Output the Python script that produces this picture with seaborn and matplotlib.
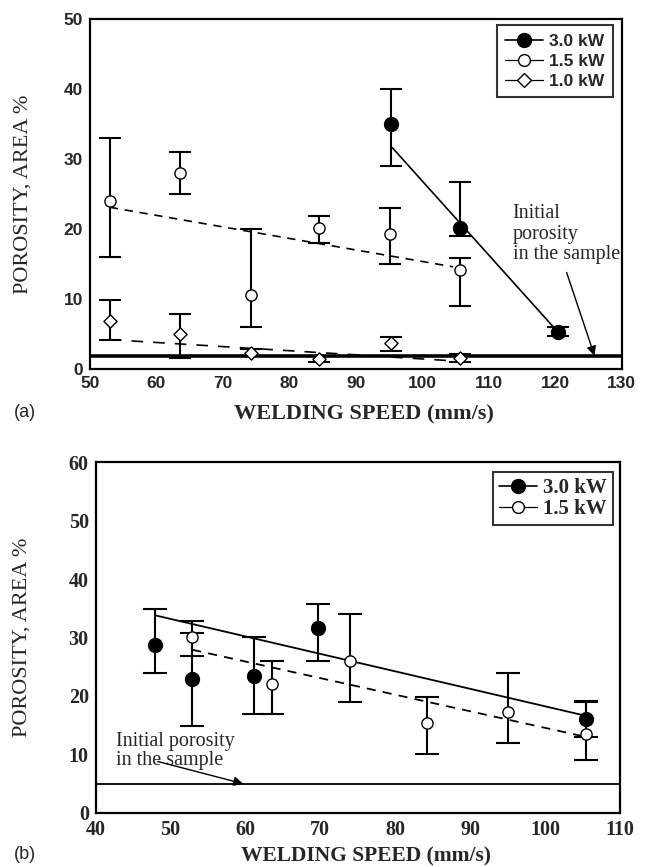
import matplotlib
matplotlib.use("Agg")
import matplotlib.pyplot as plt
from matplotlib.lines import Line2D
from matplotlib.ticker import MultipleLocator
import numpy as np
import pandas as pd
import seaborn as sns

# ---------------- panel (a) data ----------------
speed_a_30 = [95.3, 105.7, 120.4]
por_a_30 = [35.0, 20.1, 5.3]
lo_a_30 = [29.0, 19.0, 4.7]
hi_a_30 = [40.0, 26.7, 6.0]

speed_a_15 = [53.0, 63.5, 74.2, 84.5, 95.2, 105.7]
por_a_15 = [24.0, 28.0, 10.6, 20.2, 19.3, 14.1]
lo_a_15 = [16.0, 25.0, 6.0, 18.0, 15.0, 9.0]
hi_a_15 = [33.0, 31.0, 20.0, 21.8, 23.0, 15.8]

speed_a_10 = [53.0, 63.5, 74.2, 84.5, 95.3, 105.7]
por_a_10 = [6.9, 5.0, 2.3, 1.4, 3.7, 1.5]
lo_a_10 = [4.2, 1.5, 1.9, 1.0, 2.6, 1.0]
hi_a_10 = [9.8, 7.8, 2.8, 1.9, 4.5, 2.1]

trend_a_30_x, trend_a_30_y = [95.5, 120.0], [31.6, 5.7]
trend_a_15_x, trend_a_15_y = [53.0, 104.6], [23.1, 14.6]
trend_a_10_x, trend_a_10_y = [53.0, 105.7], [4.2, 1.1]
initial_a = 1.9

# ---------------- panel (b) data ----------------
speed_b_30 = [47.9, 52.9, 61.2, 69.7, 105.5]
por_b_30 = [28.8, 22.9, 23.4, 31.6, 16.1]
lo_b_30 = [23.9, 14.9, 16.9, 25.9, 13.0]
hi_b_30 = [34.9, 32.8, 30.1, 35.8, 19.2]

speed_b_15 = [52.9, 63.5, 73.9, 84.3, 95.0, 105.5]
por_b_15 = [30.1, 22.0, 25.9, 15.3, 17.3, 13.5]
lo_b_15 = [26.9, 16.9, 19.0, 10.1, 12.0, 9.1]
hi_b_15 = [30.8, 25.9, 34.0, 19.9, 23.9, 19.0]

trend_b_30_x, trend_b_30_y = [47.9, 105.5], [33.8, 16.6]
trend_b_15_x, trend_b_15_y = [52.9, 105.5], [27.9, 13.0]
initial_b = 5.0

sns.set_style("white")
plt.rcParams["font.family"] = ["Liberation Serif", "DejaVu Serif"]

fig = plt.figure(figsize=(6.47, 8.67), dpi=100)
ax_a = fig.add_axes([0.139, 0.5744, 0.822, 0.4037])
ax_b = fig.add_axes([0.148, 0.0623, 0.810, 0.4048])


def draw_errors(ax, x, y, lo, hi, lw=1.5, cap=8):
    y = np.asarray(y)
    err = np.vstack([y - np.asarray(lo), np.asarray(hi) - y])
    ax.errorbar(x, y, yerr=err, fmt="none", ecolor="black",
                elinewidth=lw, capsize=cap, capthick=lw, zorder=2)


def draw_trend(ax, x, y, **kw):
    sns.lineplot(x=x, y=y, ax=ax, color="black", estimator=None,
                 sort=False, legend=False, zorder=3, **kw)


def draw_points(ax, x, y, marker, filled, size):
    df = pd.DataFrame({"speed": x, "porosity": y})
    sns.scatterplot(data=df, x="speed", y="porosity", ax=ax, marker=marker,
                    s=size, facecolor="black" if filled else "white",
                    edgecolor="black", linewidth=1.0, zorder=4, legend=False)


def style_axes(ax, xlim, ylim, tick_font, tick_size, xlab_xy, ylab_xy,
               xlab_size=16):
    ax.set_xlim(*xlim)
    ax.set_ylim(*ylim)
    ax.xaxis.set_major_locator(MultipleLocator(10))
    ax.xaxis.set_minor_locator(MultipleLocator(2))
    ax.yaxis.set_major_locator(MultipleLocator(10))
    ax.yaxis.set_minor_locator(MultipleLocator(2))
    ax.tick_params(which="both", direction="in", top=False, right=False,
                   color="black")
    ax.tick_params(which="major", length=6, width=1.3, pad=5)
    ax.tick_params(which="minor", length=3.5, width=1.0)
    for spine in ax.spines.values():
        spine.set_visible(True)
        spine.set_color("black")
        spine.set_linewidth(1.6)
    for lab in ax.get_xticklabels() + ax.get_yticklabels():
        lab.set_fontfamily(tick_font)
        lab.set_fontweight("bold")
        lab.set_fontsize(tick_size)
    ax.set_xlabel("WELDING SPEED (mm/s)", fontsize=xlab_size, fontweight="bold",
                  family="Liberation Serif")
    ax.set_ylabel("POROSITY, AREA %", fontsize=16, family="Liberation Serif")
    ax.xaxis.set_label_coords(*xlab_xy)
    ax.yaxis.set_label_coords(*ylab_xy)


# ---------------- panel (a) ----------------
ax = ax_a
ax.axhline(initial_a, color="black", lw=2.6, zorder=1)
draw_errors(ax, speed_a_15, por_a_15, lo_a_15, hi_a_15)
draw_errors(ax, speed_a_10, por_a_10, lo_a_10, hi_a_10)
draw_errors(ax, speed_a_30, por_a_30, lo_a_30, hi_a_30)
draw_trend(ax, trend_a_30_x, trend_a_30_y, linewidth=1.2)
draw_trend(ax, trend_a_15_x, trend_a_15_y, linewidth=1.2, linestyle=(0, (5, 4)))
draw_trend(ax, trend_a_10_x, trend_a_10_y, linewidth=1.2, linestyle=(0, (7, 6)))
draw_points(ax, speed_a_15, por_a_15, "o", False, 65)
draw_points(ax, speed_a_10, por_a_10, "D", False, 45)
draw_points(ax, speed_a_30, por_a_30, "o", True, 100)
style_axes(ax, (50, 130), (0, 50), "Liberation Sans", 12.5,
           (0.515, -0.1), (-0.108, 0.5))

ax.text(113.6, 23.5, "Initial\nporosity\nin the sample", fontsize=14.5,
        family="Liberation Serif", va="top", ha="left", linespacing=1.1)
ax.annotate("", xy=(125.9, initial_a), xytext=(121.7, 13.8),
            arrowprops=dict(arrowstyle="-|>", color="black", lw=1.0,
                            mutation_scale=14, shrinkA=0, shrinkB=0))

handles_a = [
    Line2D([], [], color="black", lw=1.2, marker="o", markersize=10,
           markerfacecolor="black", markeredgecolor="black"),
    Line2D([], [], color="black", lw=0.9, marker="o", markersize=8.5,
           markerfacecolor="white", markeredgecolor="black"),
    Line2D([], [], color="black", lw=0.9, marker="D", markersize=7,
           markerfacecolor="white", markeredgecolor="black"),
]
leg = ax.legend(handles_a, ["3.0 kW", "1.5 kW", "1.0 kW"], loc="upper right",
                bbox_to_anchor=(0.983, 0.983), borderaxespad=0, frameon=True,
                fancybox=False, edgecolor="black", handlelength=2.2,
                handletextpad=0.3, labelspacing=0.28, borderpad=0.5,
                prop={"family": "Liberation Sans", "weight": "bold", "size": 12.5})
leg.get_frame().set_linewidth(1.5)

fig.text(0.022, 0.524, "(a)", fontsize=13, family="Liberation Sans",
         va="center", ha="left")

# ---------------- panel (b) ----------------
ax = ax_b
ax.axhline(initial_b, color="black", lw=1.3, zorder=1)
draw_errors(ax, speed_b_30, por_b_30, lo_b_30, hi_b_30, cap=8.5)
draw_errors(ax, speed_b_15, por_b_15, lo_b_15, hi_b_15, cap=8.5)
draw_trend(ax, trend_b_30_x, trend_b_30_y, linewidth=1.3)
draw_trend(ax, trend_b_15_x, trend_b_15_y, linewidth=1.3, linestyle=(0, (5, 4)))
draw_points(ax, speed_b_15, por_b_15, "o", False, 65)
draw_points(ax, speed_b_30, por_b_30, "o", True, 100)
style_axes(ax, (40, 110), (0, 60), "Liberation Serif", 14.5,
           (0.516, -0.095), (-0.122, 0.5), xlab_size=15.5)

ax.text(42.7, 13.9, "Initial porosity\nin the sample", fontsize=14.5,
        family="Liberation Serif", va="top", ha="left", linespacing=1.05)
ax.annotate("", xy=(59.7, initial_b), xytext=(48.3, 8.8),
            arrowprops=dict(arrowstyle="-|>", color="black", lw=1.0,
                            mutation_scale=14, shrinkA=0, shrinkB=0))

handles_b = [
    Line2D([], [], color="black", lw=1.2, marker="o", markersize=10,
           markerfacecolor="black", markeredgecolor="black"),
    Line2D([], [], color="black", lw=0.9, marker="o", markersize=8.5,
           markerfacecolor="white", markeredgecolor="black"),
]
leg = ax.legend(handles_b, ["3.0 kW", "1.5 kW"], loc="upper right",
                bbox_to_anchor=(0.987, 0.972), borderaxespad=0, frameon=True,
                fancybox=False, edgecolor="black", handlelength=1.8,
                handletextpad=0.3, labelspacing=0.05, borderpad=0.3,
                prop={"family": "Liberation Serif", "weight": "bold", "size": 15})
leg.get_frame().set_linewidth(1.5)

fig.text(0.022, 0.014, "(b)", fontsize=13, family="Liberation Sans",
         va="center", ha="left")

fig.savefig("out.png", dpi=100)
